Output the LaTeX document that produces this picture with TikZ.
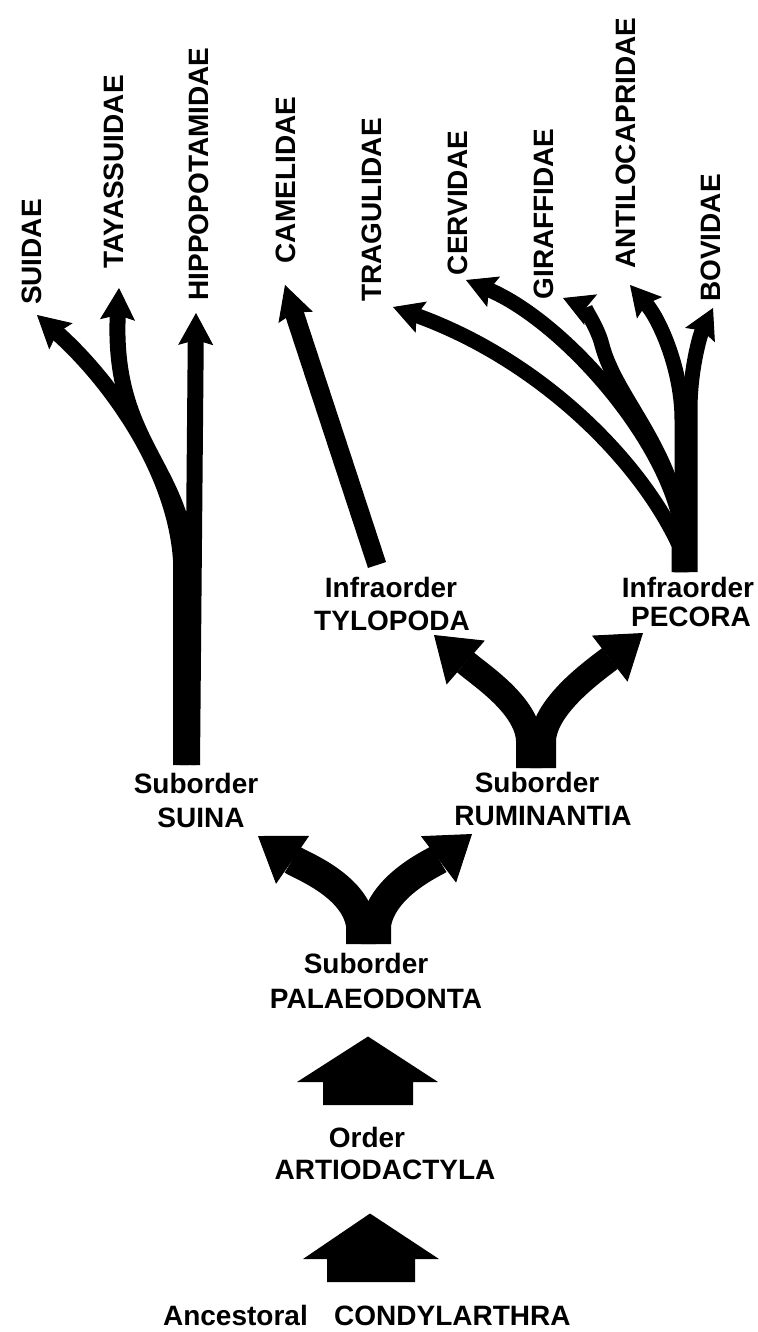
\documentclass[tikz,border=0pt]{standalone}
\usepackage{fontspec}
\setmainfont{Liberation Sans}
\usetikzlibrary{arrows.meta}
\begin{document}
\begin{tikzpicture}[x=1pt,y=-1pt,
  lbl/.style={font=\bfseries\fontsize{28}{34}\selectfont, inner sep=0pt, anchor=base},
  vlbl/.style={lbl, rotate=90},
  twig/.style={line width=16pt, -{Stealth[length=32pt,width=35pt,inset=5pt,line width=1pt]}},
  twigp/.style={line width=15pt, -{Stealth[length=30pt,width=33pt,inset=5pt,line width=1pt]}},
  forkp/.style={line width=30pt, -{Triangle[length=42pt,width=58pt,line width=1pt]}},
  forkr/.style={line width=26pt, -{Triangle[length=42pt,width=58pt,line width=1pt]}},
  block/.style={fill=black}]
\useasboundingbox (0,0) rectangle (757,1332);

% ---------- family labels (vertical)
\node[vlbl] (suidae)  at (41,252)  {SUIDAE};
\node[vlbl] (tayas)   at (123,172) {TAYASSUIDAE};
\node[vlbl] (hippo)   at (208,174) {HIPPOPOTAMIDAE};
\node[vlbl] (camel)   at (295,180) {CAMELIDAE};
\node[vlbl] (tragul)  at (381,210) {TRAGULIDAE};
\node[vlbl] (cerv)    at (467,203) {CERVIDAE};
\node[vlbl] (giraf)   at (553,214) {GIRAFFIDAE};
\node[vlbl] (antilo)  at (635,143) {ANTILOCAPRIDAE};
\node[vlbl] (bovid)   at (720,238) {BOVIDAE};

% ---------- group labels
\node[lbl] (suinaR) at (196,793) {Suborder};
\node[lbl] (suina)  at (201,827) {SUINA};
\node[lbl] (rumR)   at (537,792) {Suborder};
\node[lbl] (rum)    at (543,825) {RUMINANTIA};
\node[lbl] (tylR)   at (391,597) {Infraorder};
\node[lbl] (tyl)    at (392,630) {TYLOPODA};
\node[lbl] (pecR)   at (688,597) {Infraorder};
\node[lbl] (pec)    at (691,626) {PECORA};
\node[lbl] (palR)   at (366,973) {Suborder};
\node[lbl] (pal)    at (376,1008) {PALAEODONTA};
\node[lbl] (ordR)   at (367,1147) {Order};
\node[lbl] (art)    at (385,1179) {ARTIODACTYLA};
\node[lbl,anchor=base east] (anc)  at (308,1325) {Ancestoral};
\node[lbl,anchor=base west] (cond) at (334,1325) {CONDYLARTHRA};

% ---------- named end points
\coordinate (suinaA) at (181,765);
\coordinate (suinaB) at (188,765);
\coordinate (suinaC) at (192,765);
\coordinate (suidaeT) at (37,315);
\coordinate (tayasT)  at (119,288);
\coordinate (hippoT)  at (196,313);

\coordinate (tylS)   at (377,565);
\coordinate (camelT) at (285,285);

\coordinate (pecA) at (679,572);
\coordinate (pecB) at (681,572);
\coordinate (pecC) at (682,572);
\coordinate (pecD) at (690,572);
\coordinate (tragT) at (393,307);
\coordinate (cervT) at (466,280);
\coordinate (girT)  at (563,298);
\coordinate (antT)  at (630,285);
\coordinate (bovT)  at (713,308);

\coordinate (rumA) at (529,768);
\coordinate (rumB) at (543,768);
\coordinate (tylT) at (434,635);
\coordinate (pecT) at (643,633);

\coordinate (palA) at (361,944);
\coordinate (palB) at (376,944);
\coordinate (suinaT) at (258,836);
\coordinate (rumT)   at (472,834);

% ---------- Suina branches
\draw[twig] (suinaA) -- (181,560) .. controls (175,470) and (110,380) .. (suidaeT);
\draw[twig] (suinaB) -- (188,560) .. controls (180,465) and (112,440) .. (tayasT);
\draw[twig] (suinaC) -- (hippoT);

% ---------- Tylopoda branch
\draw[line width=19pt, -{Stealth[length=34pt,width=36pt,inset=5pt,line width=1pt]}] (tylS) -- (camelT);

% ---------- Pecora branches
\draw[twigp] (pecA) -- (679,545) .. controls (640,460) and (540,360) .. (tragT);
\draw[twigp] (pecB) -- (680,520) .. controls (660,430) and (560,320) .. (cervT);
\draw[twigp] (pecB) -- (681,520) .. controls (665,440) and (615,395) .. (602,345)
                    .. controls (597,325) and (582,306) .. (girT);
\draw[twigp] (pecC) -- (682,420) .. controls (682,370) and (660,320) .. (antT);
\draw[twigp] (pecD) -- (690,410) .. controls (690,370) and (700,335) .. (bovT);

% ---------- Ruminantia fork
\draw[forkr] (rumA) -- (529,740) .. controls (527,705) and (480,675) .. (tylT);
\draw[forkr] (rumB) -- (543,740) .. controls (545,705) and (595,670) .. (pecT);

% ---------- Palaeodonta fork
\draw[forkp] (palA) -- (361,925) .. controls (355,885) and (300,865) .. (suinaT);
\draw[forkp] (palB) -- (376,925) .. controls (382,885) and (435,862) .. (rumT);

% ---------- block arrows
\fill[block] (323,1105) -- (323,1082) -- (297,1082) -- (368,1036.5) -- (438,1082)
  -- (413,1082) -- (413,1105) -- cycle;
\fill[block] (327,1282) -- (327,1259) -- (303,1259) -- (370,1213.5) -- (439,1259)
  -- (415,1259) -- (415,1282) -- cycle;
\end{tikzpicture}
\end{document}
